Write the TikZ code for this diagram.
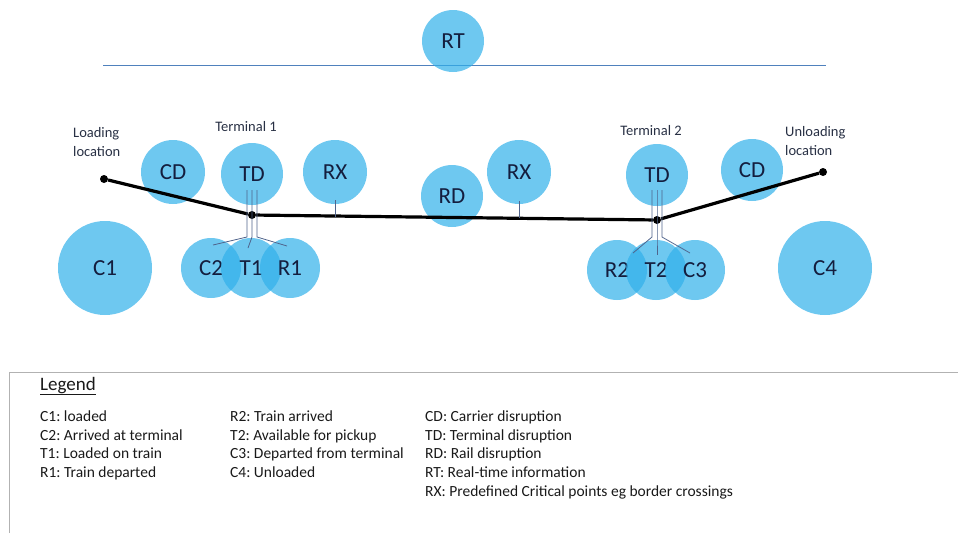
\documentclass[tikz,border=0pt]{standalone}
\usepackage{fontspec}
\setmainfont{Carlito}
\frenchspacing
\usetikzlibrary{calc}
\definecolor{bubble}{RGB}{48,176,234}
\definecolor{inknavy}{RGB}{20,30,62}
\definecolor{stemcol}{RGB}{80,100,140}
\definecolor{rtline}{RGB}{79,129,189}
\definecolor{labelcol}{RGB}{40,48,68}
\tikzset{
  bubble/.style={circle, fill=bubble, fill opacity=0.7, text opacity=1,
    text=inknavy, inner sep=0, minimum size=#1,
    font=\fontsize{23}{27}\selectfont},
  bubble/.default=62,
  railpt/.style={circle, fill=black, inner sep=0, minimum size=8},
  rail/.style={line width=3.2, black},
  stemline/.style={stemcol, line width=0.8},
  placetext/.style={inner sep=0, text=labelcol, align=left,
    font=\fontsize{14.5}{18.5}\selectfont},
  legtext/.style={anchor=base west, inner sep=0, text=black!90,
    font=\fontsize{15.5}{19}\selectfont}
}
\begin{document}
\begin{tikzpicture}[x=1pt,y=-1pt]
\useasboundingbox (0,0) rectangle (958,533);

% real-time line
\coordinate (rtL) at (103,65);
\coordinate (rtR) at (826,65);
\draw[rtline, line width=1] (rtL) -- (rtR);
\node[bubble=58, minimum height=62](RT)at(453,41){RT};

% place labels
\node[placetext, anchor=west](loadtxt)at(73,142){Loading\\location};
\node[placetext, anchor=west](unloadtxt)at(785,141){Unloading\\location};
\node[placetext](term1)at(246,127){Terminal 1};
\node[placetext](term2)at(651,131){Terminal 2};

% disruption bubbles
\node[bubble=64](CD1)at(173,172){CD};
\node[bubble](TD1)at(252,174){TD};
\node[bubble=64](RX1)at(335,172){RX};
\node[bubble](RD)at(452,196){RD};
\node[bubble=64](RX2)at(519,172){RX};
\node[bubble](TD2)at(657,175){TD};
\node[bubble](CD2)at(752,170){CD};

% status bubbles
\node[bubble=94](C1)at(105,268){C1};
\node[bubble=60](C2)at(211,268){C2};
\node[bubble=60](T1)at(251,268){T1};
\node[bubble=60](R1)at(290,268){R1};
\node[bubble=60](R2)at(617,270){R2};
\node[bubble=60](T2)at(656,270){T2};
\node[bubble=60](C3)at(695,270){C3};
\node[bubble=94](C4)at(825,268){C4};

% rail
\node[railpt](load)at(104,179){};
\node[railpt](J1)at(252,215){};
\node[railpt](J2)at(657,220){};
\node[railpt](unload)at(823,172){};
\draw[rail] (load) -- (J1);
\draw[rail] (J1) -- (J2);
\draw[rail] (J2) -- (unload);

% stems
\coordinate (rx1foot) at (335,217);
\coordinate (rx2foot) at (519,218);
\draw[stemline] ($(RX1.south)+(0,-4)$) -- (rx1foot);
\draw[stemline] ($(RX2.south)+(0,-3)$) -- (rx2foot);

\draw[stemline] ($(TD1)+(-5,16)$) -- ($(J1)+(-5,22)$) -- ($(C2)+(2,-23)$);
\draw[stemline] ($(TD1)+(0,16)$) -- ($(J1)+(0,22)$) -- ($(T1)+(-3,-20)$);
\draw[stemline] ($(TD1)+(5,16)$) -- ($(J1)+(5,22)$) -- ($(R1)+(-3,-22)$);

\draw[stemline] ($(TD2)+(-5,15)$) -- ($(J2)+(-5,17)$) -- ($(R2)+(16,-17)$);
\draw[stemline] ($(TD2)+(0,15)$) -- ($(J2)+(0,17)$) -- ($(T2)+(1,-15)$);
\draw[stemline] ($(TD2)+(5,15)$) -- ($(J2)+(5,17)$) -- ($(C3)+(-5,-17)$);

% legend
\draw[black!30, line width=1] (9,533) -- (9,372) -- (958,372);
\node[legtext, font=\fontsize{19}{23}\selectfont](legtitle)at(40,390){\underline{Legend}};

\node[legtext](lgC1)at(40,421){C1: loaded};
\node[legtext](lgC2)at(40,440){C2: Arrived at terminal};
\node[legtext](lgT1)at(40,458){T1: Loaded on train};
\node[legtext](lgR1)at(40,477){R1: Train departed};

\node[legtext](lgR2)at(230,421){R2: Train arrived};
\node[legtext](lgT2)at(230,440){T2: Available for pickup};
\node[legtext](lgC3)at(230,458){C3: Departed from terminal};
\node[legtext](lgC4)at(230,477){C4: Unloaded};

\node[legtext](lgCD)at(425,421){CD: Carrier disruption};
\node[legtext](lgTD)at(425,440){TD: Terminal disruption};
\node[legtext](lgRD)at(425,458){RD: Rail disruption};
\node[legtext](lgRT)at(425,477){RT: Real-time information};
\node[legtext](lgRX)at(425,496){RX: Predefined Critical points eg border crossings};
\end{tikzpicture}
\end{document}
